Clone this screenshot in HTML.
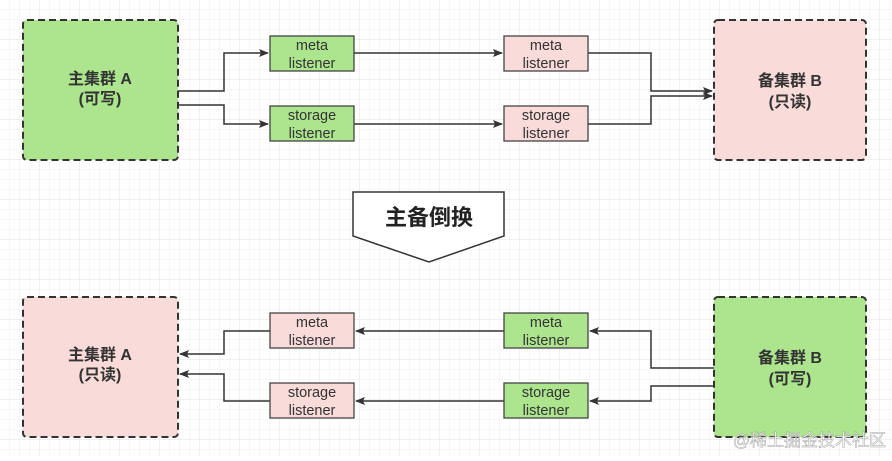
<!DOCTYPE html>
<html><head><meta charset="utf-8"><style>
body{margin:0;width:892px;height:456px;overflow:hidden;background:#fff}
</style></head><body>
<svg width="892" height="456" xmlns="http://www.w3.org/2000/svg" font-family="Liberation Sans, Noto Sans CJK SC, sans-serif">
<defs>
<pattern id="g1" width="10" height="10" patternUnits="userSpaceOnUse"><path d="M10 0V10H0" fill="none" stroke="#efefef" stroke-width="1"/></pattern>
<pattern id="g2" width="40" height="40" patternUnits="userSpaceOnUse"><rect width="40" height="40" fill="url(#g1)"/><path d="M40 0V40H0" fill="none" stroke="#e2e2e2" stroke-width="1"/></pattern>
<marker id="ar" viewBox="0 0 10 10" refX="9" refY="5" markerWidth="10" markerHeight="10" markerUnits="userSpaceOnUse" orient="auto"><path d="M0 1L10 5L0 9L2 5Z" fill="#333"/></marker>
</defs>
<rect width="892" height="456" fill="url(#g2)"/>
<g stroke="#333" stroke-width="1.5" fill="none" marker-end="url(#ar)">
<path d="M178 91H224V53H268"/><path d="M178 105H224V124H268"/>
<path d="M354 53H502"/><path d="M354 124H502"/>
<path d="M588 53H651V91H712"/><path d="M588 124H651V96H712"/>
<path d="M714 368H651V331H590"/><path d="M714 386H651V401H590"/>
<path d="M504 331H356"/><path d="M504 401H356"/>
<path d="M270 331H224V354H180"/><path d="M270 401H224V374H180"/>
</g>
<g stroke="#333" stroke-width="2" stroke-dasharray="7,4">
<rect x="23" y="20" width="155" height="140" rx="4" fill="#ade58f"/>
<rect x="714" y="20" width="152" height="140" rx="4" fill="#f9dbda"/>
<rect x="23" y="297" width="155" height="140" rx="4" fill="#f9dbda"/>
<rect x="714" y="297" width="152" height="140" rx="4" fill="#ade58f"/>
</g>
<g stroke="#444" stroke-width="1.3">
<rect x="270" y="36" width="84" height="35" fill="#ade58f"/>
<rect x="270" y="106" width="84" height="35" fill="#ade58f"/>
<rect x="504" y="36" width="84" height="35" fill="#f9dbda"/>
<rect x="504" y="106" width="84" height="35" fill="#f9dbda"/>
<rect x="270" y="313" width="84" height="35" fill="#f9dbda"/>
<rect x="270" y="383" width="84" height="35" fill="#f9dbda"/>
<rect x="504" y="313" width="84" height="35" fill="#ade58f"/>
<rect x="504" y="383" width="84" height="35" fill="#ade58f"/>
</g>
<path d="M353 192H504V236L429 262L353 236Z" fill="#fff" stroke="#333" stroke-width="1.5"/>
<text x="429" y="225" text-anchor="middle" font-size="22" font-weight="bold" fill="#222">主备倒换</text>
<g font-size="14.5" fill="#333" text-anchor="middle">
<text x="312" y="50">meta</text><text x="312" y="68">listener</text>
<text x="312" y="120">storage</text><text x="312" y="138">listener</text>
<text x="546" y="50">meta</text><text x="546" y="68">listener</text>
<text x="546" y="120">storage</text><text x="546" y="138">listener</text>
<text x="312" y="327">meta</text><text x="312" y="345">listener</text>
<text x="312" y="397">storage</text><text x="312" y="415">listener</text>
<text x="546" y="327">meta</text><text x="546" y="345">listener</text>
<text x="546" y="397">storage</text><text x="546" y="415">listener</text>
</g>
<g font-size="16" font-weight="bold" fill="#333" text-anchor="middle">
<text x="100" y="84">主集群 A</text><text x="100" y="104">(可写)</text>
<text x="790" y="86">备集群 B</text><text x="790" y="107">(只读)</text>
<text x="100" y="360">主集群 A</text><text x="100" y="380">(只读)</text>
<text x="790" y="363">备集群 B</text><text x="790" y="384">(可写)</text>
</g>
<text x="886" y="446" text-anchor="end" font-size="17" fill="#fff" stroke="#999" stroke-width="0.5" opacity="0.9">@稀土掘金技术社区</text>
</svg>
</body></html>
